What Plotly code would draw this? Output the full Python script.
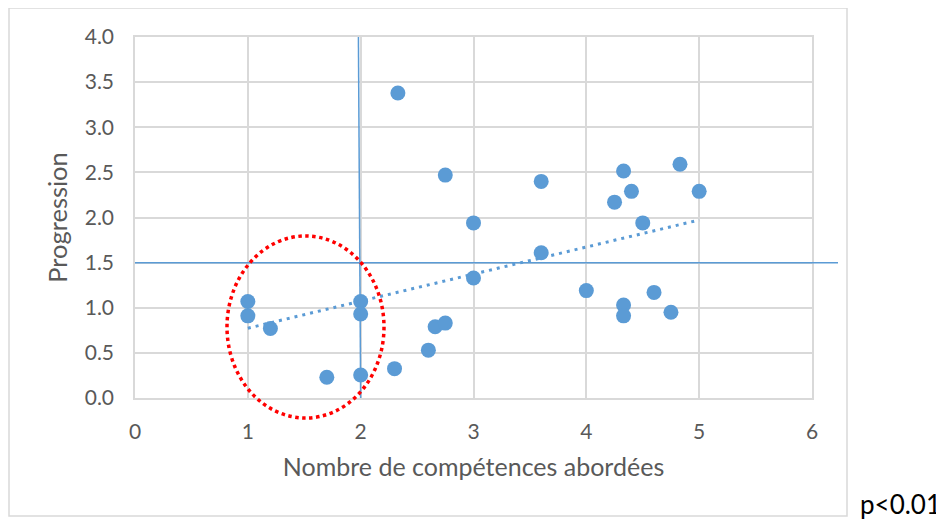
import numpy as np
import plotly.graph_objects as go

# nombre de compétences abordées vs progression
competences = [1, 1, 1.2, 1.7, 2, 2, 2, 2.3, 2.33, 2.6, 2.66, 2.75, 2.75, 3, 3,
               3.6, 3.6, 4, 4.25, 4.33, 4.4, 4.5, 4.33, 4.33, 4.6, 4.75, 4.83, 5]
progression = [1.07, 0.91, 0.77, 0.23, 1.07, 0.93, 0.255, 0.325, 3.38, 0.53, 0.79, 0.83, 2.47, 1.94, 1.33,
               2.40, 1.61, 1.19, 2.17, 2.515, 2.29, 1.94, 1.03, 0.91, 1.17, 0.95, 2.59, 2.29]
x_ticks = [0, 1, 2, 3, 4, 5, 6]
y_ticks = [0.0, 0.5, 1.0, 1.5, 2.0, 2.5, 3.0, 3.5, 4.0]
seuil_x = 2
seuil_y = 1.5

BLUE = "#5b9bd5"
GRID = "#d9d9d9"
FONT = "Lato"

# page body has an 8px margin, so work in screen pixels and shift
OFF = 8
W, H = 944 - OFF, 522 - OFF
L, R, T, B = 135 - OFF, 812 - OFF, 37 - OFF, 398 - OFF  # plot area in figure pixels


def px2paper(px, py):
    # screen pixels -> paper coords
    px, py = px - OFF, py - OFF
    return (px - L) / (R - L), (B - py) / (B - T)


# excel-like linear trendline
slope, inter = np.polyfit(competences, progression, 1)
tx = np.array([min(competences), max(competences)])
ty = slope * tx + inter

fig = go.Figure()
fig.add_trace(go.Scatter(x=tx, y=ty, mode="lines",
                         line=dict(color=BLUE, width=3, dash="3px,5px"),
                         hoverinfo="skip", showlegend=False))
fig.add_trace(go.Scatter(x=competences, y=progression, mode="markers",
                         marker=dict(color=BLUE, size=15),
                         showlegend=False))

shapes = []
# outer chart border
x0, y0 = px2paper(9, 516)
x1, y1 = px2paper(847, 8)
shapes.append(dict(type="rect", xref="paper", yref="paper", x0=x0, y0=y0, x1=x1, y1=y1,
                   line=dict(color=GRID, width=1.5), layer="below"))
# threshold lines
hx1, _ = px2paper(838, 0)
shapes.append(dict(type="line", xref="paper", yref="paper", x0=0, x1=hx1,
                   y0=seuil_y / 4, y1=seuil_y / 4, line=dict(color=BLUE, width=1.5)))
shapes.append(dict(type="line", xref="paper", yref="paper", x0=seuil_x / 6, x1=(seuil_x - 0.02) / 6,
                   y0=0, y1=1, line=dict(color=BLUE, width=1.5)))
# red dotted ellipse
ex0, ey0 = px2paper(227, 418)
ex1, ey1 = px2paper(384, 236)
shapes.append(dict(type="circle", xref="paper", yref="paper", x0=ex0, y0=ey0, x1=ex1, y1=ey1,
                   line=dict(color="#ff0000", width=3.5, dash="dot")))

fig.update_layout(
    width=W, height=H,
    margin=dict(l=L, r=W - R, t=T, b=H - B),
    plot_bgcolor="white", paper_bgcolor="white",
    font=dict(family=FONT, color="#595959"),
    shapes=shapes,
    annotations=[dict(text="p<0.01", xref="paper", yref="paper",
                      x=px2paper(943, 0)[0], y=px2paper(0, 504)[1],
                      xanchor="right", yanchor="middle", showarrow=False,
                      font=dict(family=FONT, size=26, color="black"))],
)
fig.update_xaxes(range=[0, 6], tickvals=x_ticks, ticktext=[str(v) for v in x_ticks],
                 showgrid=True, gridcolor=GRID, gridwidth=1.5,
                 showline=True, linecolor=GRID, linewidth=1.5, mirror=True,
                 zeroline=False, ticks="", ticklabelstandoff=14,
                 tickfont=dict(size=21),
                 title=dict(text="Nombre de compétences abordées", font=dict(size=25), standoff=17))
fig.update_yaxes(range=[0, 4], tickvals=y_ticks, ticktext=[f"{v:.1f}" for v in y_ticks],
                 showgrid=True, gridcolor=GRID, gridwidth=1.5,
                 showline=True, linecolor=GRID, linewidth=1.5, mirror=True,
                 zeroline=False, ticks="", ticklabelstandoff=15,
                 tickfont=dict(size=21),
                 title=dict(text="Progression", font=dict(size=25.5), standoff=10))

fig.write_html("out.html")
